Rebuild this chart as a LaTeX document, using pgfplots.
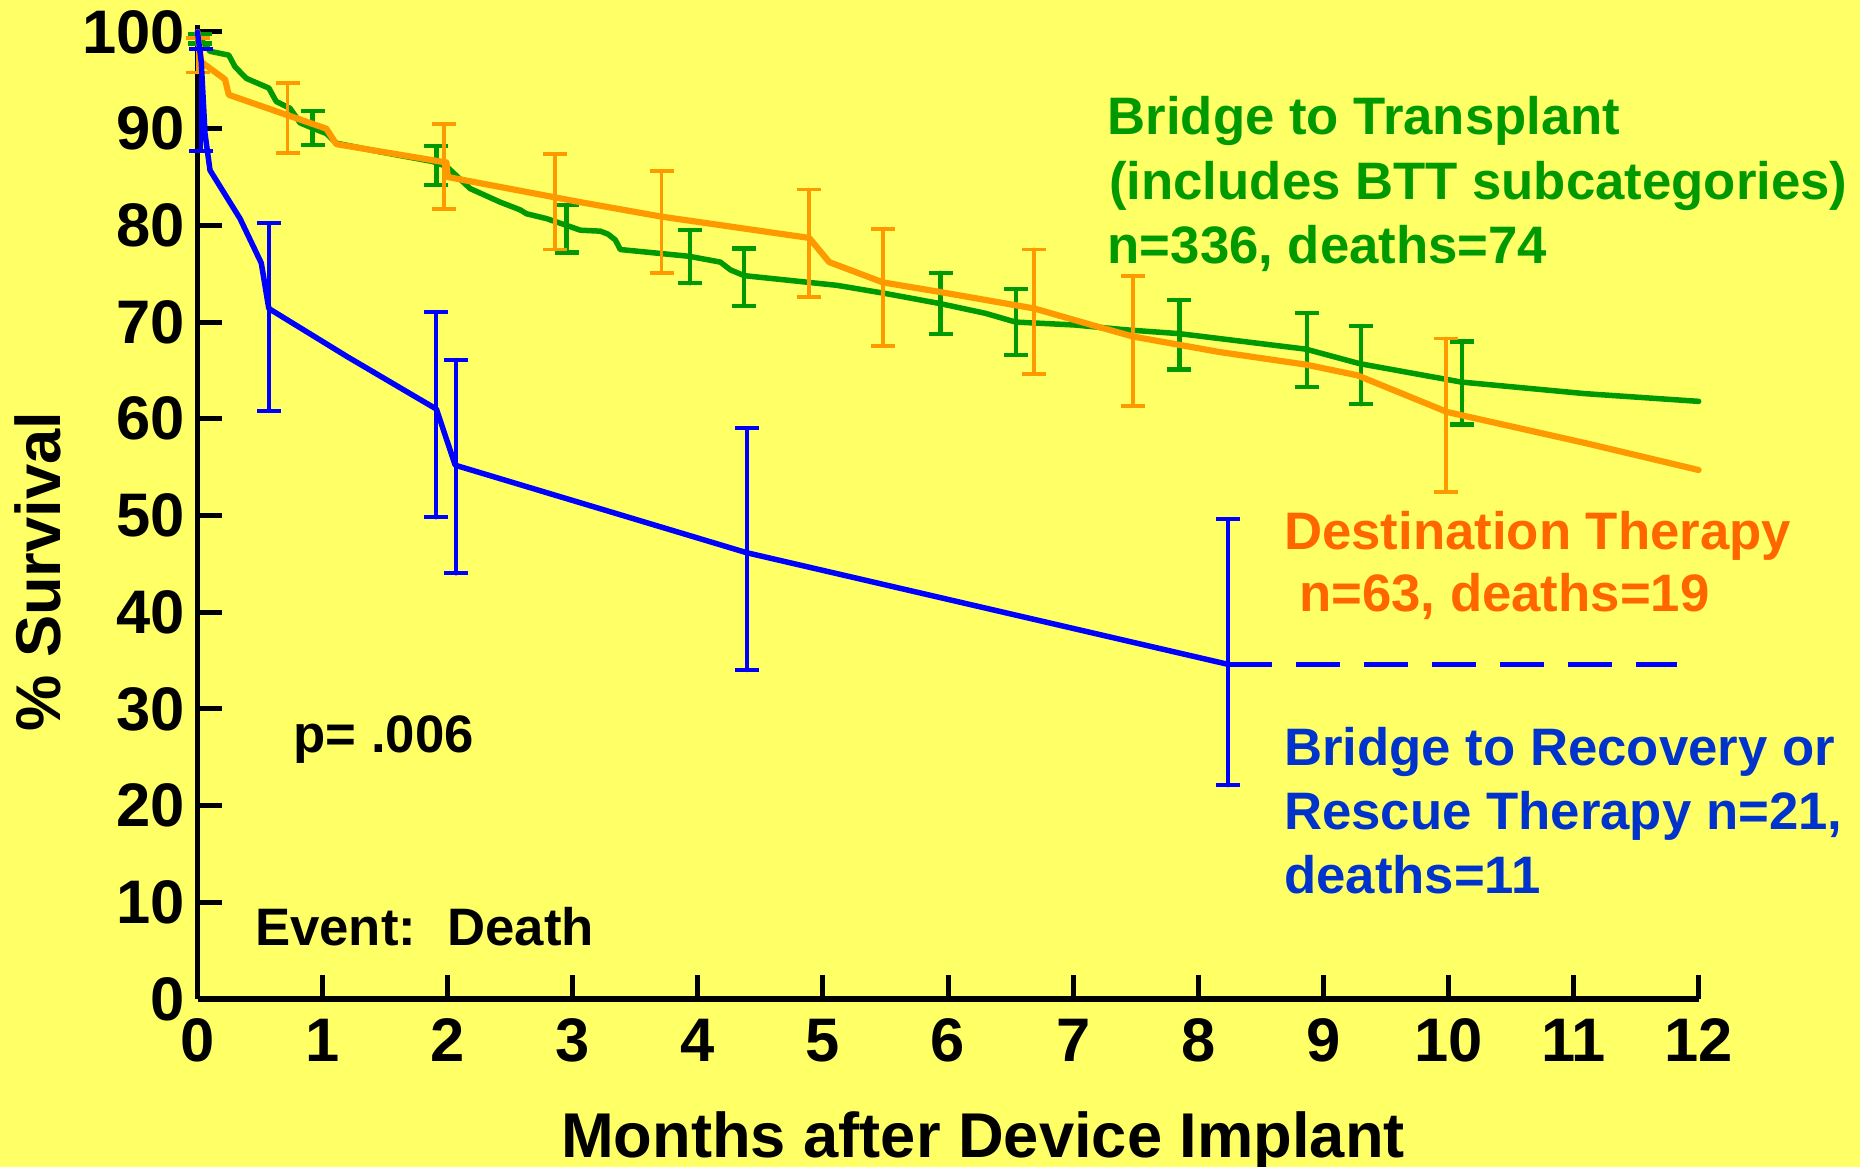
\documentclass[border=0pt]{standalone}
\usepackage{fontspec}
\setmainfont{Liberation Sans}
\usepackage{pgfplots}
\pgfplotsset{compat=1.18}
\definecolor{bgy}{HTML}{FFFF66}
\definecolor{grn}{HTML}{009900}
\definecolor{orl}{HTML}{FF9900}
\definecolor{ort}{HTML}{FF6600}
\definecolor{bll}{HTML}{0000FF}
\definecolor{blt}{HTML}{0033CC}
\begin{document}
\begin{tikzpicture}
\path[use as bounding box] (-19.75mm,-16.8mm) rectangle (166.25mm,99.9mm);
\fill[bgy] (-19.75mm,-16.8mm) rectangle (166.25mm,99.9mm);
\begin{axis}[
  at={(0,0)}, anchor=south west,
  scale only axis, width=150.11mm, height=97.38mm,
  xmin=0, xmax=12, ymin=0, ymax=100.7,
  axis lines=left,
  axis line style={-, line width=0.55mm, black},
  clip=false,
  xtick={0,1,...,12}, ytick={0,10,...,100},
  tick align=inside, major tick length=2.4mm,
  tick style={line width=0.5mm, black},
  /pgf/number format/assume math mode=true,
  tick label style={font=\bfseries\fontsize{17.5}{20}\selectfont},
  xticklabel style={anchor=north, inner sep=0pt, yshift=-1.9mm},
  yticklabel style={anchor=east, inner sep=0pt, xshift=-1.2mm},
  every axis plot/.append style={line join=round, line cap=round},
]
% Bridge to Transplant
\addplot[grn, line width=0.55mm, mark=none] coordinates {
(0,99.7) (0.1,98.0) (0.25,97.6) (0.3,96.4) (0.39,95.2) (0.57,94.2) (0.63,92.8)
(0.74,92.1) (0.82,90.6) (0.93,90.0) (1.03,89.5) (1.11,88.5) (1.46,87.6) (1.67,87.1)
(1.88,86.6) (1.99,86.1) (2.18,83.8) (2.42,82.4) (2.58,81.6) (2.63,81.2) (2.79,80.7)
(2.95,80.0) (3.06,79.5) (3.22,79.4) (3.28,79.1) (3.34,78.5) (3.38,77.5) (3.93,76.8)
(4.18,76.2) (4.26,75.4) (4.37,74.8) (5.11,73.8) (5.48,73.0) (5.94,71.9) (6.30,70.9)
(6.54,70.0) (7.01,69.7) (7.42,69.2) (7.85,68.8) (8.86,67.2) (9.29,65.7) (10.10,63.8)
(11.09,62.6) (12.0,61.8)};
\addplot[draw=none, mark=none, error bars/.cd, y dir=both, y explicit,
  error bar style={draw=grn, line width=0.42mm},
  error mark options={rotate=90, mark size=1.2mm, line width=0.42mm, draw=grn}] coordinates {
(0.02,99.3) +- (0,0.5)
(0.92,90.05) +- (0,1.75)
(1.91,86.2) +- (0,2.0)
(2.95,79.65) +- (0,2.45)
(3.94,76.75) +- (0,2.75)
(4.37,74.65) +- (0,2.95)
(5.94,71.95) +- (0,3.15)
(6.54,70.0) +- (0,3.4)
(7.85,68.7) +- (0,3.6)
(8.87,67.1) +- (0,3.8)
(9.30,65.55) +- (0,4.05)
(10.11,63.7) +- (0,4.3)};
% Destination Therapy
\addplot[orl, line width=0.62mm, mark=none] coordinates {
(0,100) (0.03,96.9) (0.22,95.1) (0.25,93.5) (1.03,90.0) (1.11,88.4) (1.99,86.5)
(2.0,85.0) (3.06,82.4) (3.71,80.9) (4.89,78.7) (5.05,76.2) (5.48,74.1) (5.94,73.1)
(6.69,71.4) (7.23,69.4) (7.48,68.5) (8.17,66.9) (8.86,65.6) (9.27,64.5) (9.99,60.7)
(11.09,57.5) (12.0,54.7)};
\addplot[draw=none, mark=none, error bars/.cd, y dir=both, y explicit,
  error bar style={draw=orl, line width=0.38mm},
  error mark options={rotate=90, mark size=1.2mm, line width=0.38mm, draw=orl}] coordinates {
(0,97.6) +- (0,1.8)
(0.72,91.1) +- (0,3.6)
(1.97,86.1) +- (0,4.4)
(2.86,82.45) +- (0,4.95)
(3.71,80.35) +- (0,5.25)
(4.89,78.15) +- (0,5.55)
(5.48,73.55) +- (0,6.05)
(6.69,71.05) +- (0,6.45)
(7.48,68.05) +- (0,6.75)
(9.98,60.35) +- (0,7.95)};
% Bridge to Recovery / Rescue
\addplot[bll, line width=0.55mm, mark=none] coordinates {
(0,100) (0.03,96.9) (0.06,89.5) (0.1,85.7) (0.34,80.7) (0.51,76.1) (0.57,71.4)
(1.20,66.4) (1.91,61.0) (2.06,55.2) (4.39,46.15) (8.24,34.6)};
\addplot[bll, line width=0.55mm, mark=none, line cap=butt, dash pattern=on 4.4mm off 2.4mm] coordinates {
(8.24,34.6) (11.83,34.6)};
\addplot[draw=none, mark=none, error bars/.cd, y dir=both, y explicit,
  error bar style={draw=bll, line width=0.4mm},
  error mark options={rotate=90, mark size=1.2mm, line width=0.4mm, draw=bll}] coordinates {
(0.03,92.95) +- (0,5.25)
(0.57,70.5) +- (0,9.7)
(1.91,60.4) +- (0,10.6)
(2.07,55.05) +- (0,11.05)
(4.39,46.5) +- (0,12.5)
(8.24,35.85) +- (0,13.75)};
\end{axis}
% annotations
\begin{scope}[every node/.style={inner sep=0pt, anchor=base west, font=\bfseries\fontsize{15}{18}\selectfont}]
\node[text=grn] at (90.95mm,86.4mm) {Bridge to Transplant};
\node[text=grn] at (91.1mm,79.97mm) {(includes BTT subcategories)};
\node[text=grn] at (90.95mm,73.57mm) {n=336, deaths=74};
\node[text=ort] at (108.6mm,44.9mm) {Destination Therapy};
\node[text=ort] at (110.1mm,38.73mm) {n=63, deaths=19};
\node[text=blt] at (108.6mm,23.3mm) {Bridge to Recovery or};
\node[text=blt] at (108.6mm,16.97mm) {Rescue Therapy n=21,};
\node[text=blt] at (108.6mm,10.57mm) {deaths=11};
\node[text=black] at (9.55mm,24.63mm) {p= .006};
\node[text=black] at (5.7mm,5.35mm) {Event:\hspace{3.1mm}Death};
\end{scope}
\node[inner sep=0pt, anchor=base, rotate=90, font=\bfseries\fontsize{18}{21}\selectfont] at (-13.65mm,42.73mm) {\% Survival};
\node[inner sep=0pt, anchor=base west, font=\bfseries\fontsize{18}{21}\selectfont] at (36.3mm,-15.83mm) {Months after Device Implant};
\end{tikzpicture}
\end{document}
